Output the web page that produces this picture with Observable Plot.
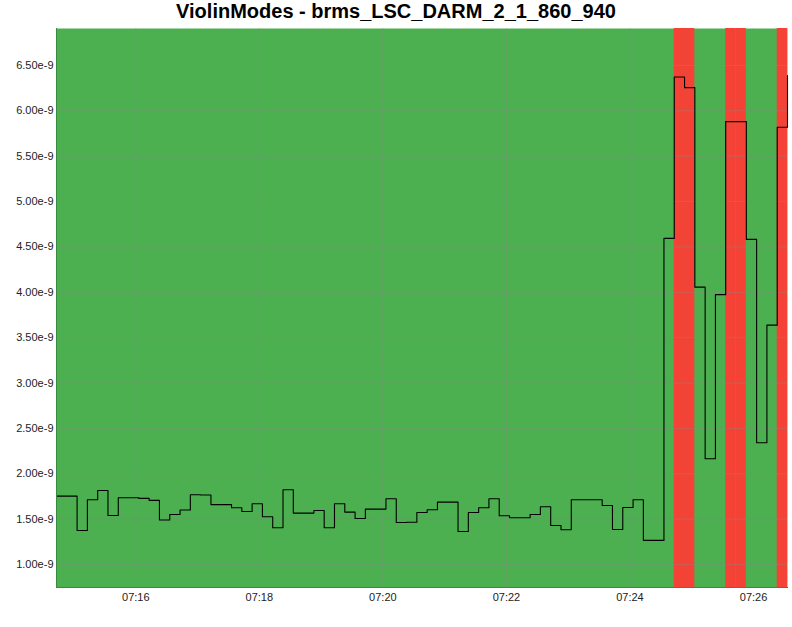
<!DOCTYPE html>
<html>
<head>
<meta charset="utf-8">
<script src="https://cdn.jsdelivr.net/npm/d3@7"></script>
<script src="https://cdn.jsdelivr.net/npm/@observablehq/plot@0.6"></script>
<style>
  html, body { margin: 0; padding: 0; background: #fff; }
  #wrap { width: 792px; height: 627px; position: relative; overflow: hidden; }
  #title { height: 28px; width: 792px; text-align: center; font-family: "Liberation Sans", Arial, sans-serif; font-weight: bold; font-size: 20px; line-height: 23px; color: #000; }
  #chart svg { display: block; }
</style>
</head>
<body>
<div id="wrap">
  <div id="title">ViolinModes - brms_LSC_DARM_2_1_860_940</div>
  <div id="chart"></div>
</div>
<script>
// Sample start (10 s sampling)
const startTime = Date.UTC(2020, 0, 1, 7, 14, 43);
const stepSeconds = 10;

// brms values (units of 1e-9), one per 10 s sample
const brms = [
  1.753, 1.753, 1.375, 1.713, 1.816, 1.540, 1.735, 1.735, 1.728, 1.706,
  1.490, 1.550, 1.600, 1.768, 1.765, 1.660, 1.660, 1.625, 1.584, 1.670,
  1.526, 1.405, 1.824, 1.566, 1.566, 1.595, 1.405, 1.670, 1.577, 1.507,
  1.610, 1.610, 1.724, 1.463, 1.465, 1.573, 1.603, 1.687, 1.687, 1.364,
  1.573, 1.625, 1.724, 1.537, 1.515, 1.515, 1.551, 1.636, 1.430, 1.382,
  1.713, 1.713, 1.713, 1.650, 1.386, 1.628, 1.713, 1.265, 1.265, 4.594,
  6.373, 6.256, 4.057, 2.165, 3.974, 5.881, 5.881, 4.583, 2.342, 3.638,
  5.820, 6.390
];

// state of each 10 s interval: "ok" (green) or "alarm" (red)
const states = [
  "ok","ok","ok","ok","ok","ok","ok","ok","ok","ok",
  "ok","ok","ok","ok","ok","ok","ok","ok","ok","ok",
  "ok","ok","ok","ok","ok","ok","ok","ok","ok","ok",
  "ok","ok","ok","ok","ok","ok","ok","ok","ok","ok",
  "ok","ok","ok","ok","ok","ok","ok","ok","ok","ok",
  "ok","ok","ok","ok","ok","ok","ok","ok","ok","ok",
  "alarm","alarm","ok","ok","ok","alarm","alarm","ok","ok","ok",
  "alarm"
];

const yTicks = [1.0e-9, 1.5e-9, 2.0e-9, 2.5e-9, 3.0e-9, 3.5e-9, 4.0e-9, 4.5e-9, 5.0e-9, 5.5e-9, 6.0e-9, 6.5e-9];
const xTickLabels = ["07:16", "07:18", "07:20", "07:22", "07:24", "07:26"];
const yDomain = [0.746e-9, 6.908e-9];

const tAt = i => new Date(startTime + i * stepSeconds * 1000);
const points = brms.map((v, i) => ({t: tAt(i), v: v * 1e-9}));
const intervals = states.map((s, i) => ({t1: tAt(i), t2: tAt(i + 1), state: s}));
const xTicks = xTickLabels.map(s => {
  const [h, m] = s.split(":").map(Number);
  return new Date(Date.UTC(2020, 0, 1, h, m, 0));
});

const plot = Plot.plot({
  width: 792,
  height: 599,
  marginTop: 0,
  marginLeft: 56,
  marginRight: 5,
  marginBottom: 40,
  style: {fontFamily: "'Liberation Sans', Arial, sans-serif", fontSize: "11px", color: "#222", background: "#fff"},
  x: {type: "utc", domain: [tAt(0), tAt(brms.length - 1)]},
  y: {domain: yDomain},
  marks: [
    Plot.frame({fill: "#4caf50", stroke: null}),
    Plot.rect(intervals.filter(d => d.state === "alarm"), {x1: "t1", x2: "t2", fill: "#f44336"}),
    Plot.gridY(yTicks, {stroke: "#8a8a8a", strokeOpacity: 0.4}),
    Plot.gridX(xTicks, {stroke: "#8a8a8a", strokeOpacity: 0.4}),
    Plot.line(points, {x: "t", y: "v", curve: "step-after", stroke: "#000", strokeWidth: 1.1}),
    Plot.frame({anchor: "left", stroke: "#3a8a3d"}),
    Plot.frame({anchor: "bottom", stroke: "#3a8a3d"}),
    Plot.axisY(yTicks, {tickSize: 0, tickPadding: 3, tickFormat: d => d3.format(".2e")(d), label: null}),
    Plot.axisX(xTicks, {tickSize: 0, tickPadding: 6, tickFormat: d3.utcFormat("%H:%M"), label: null})
  ]
});
document.getElementById("chart").appendChild(plot);
</script>
</body>
</html>
